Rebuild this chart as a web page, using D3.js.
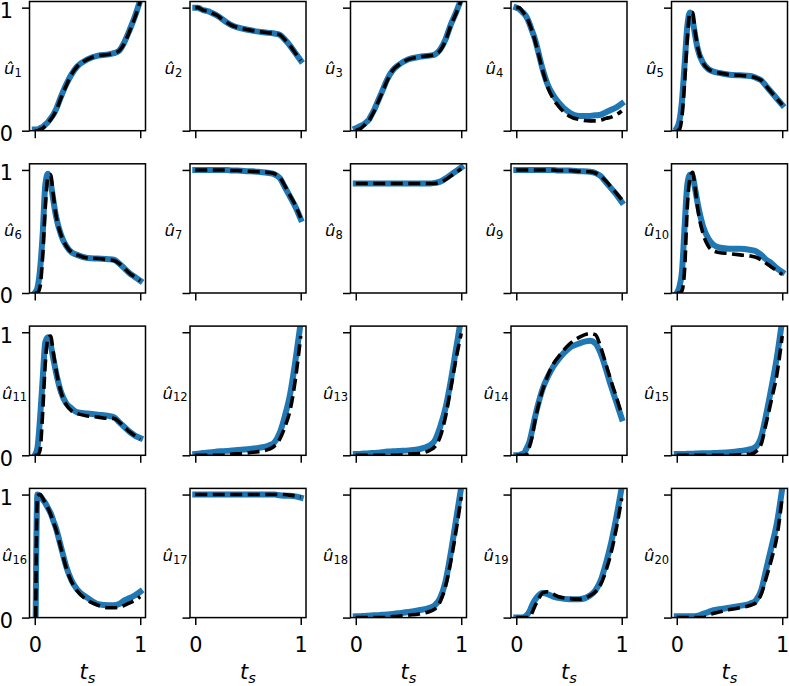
<!DOCTYPE html>
<html>
<head>
<meta charset="utf-8">
<script src="https://cdn.jsdelivr.net/npm/d3@7"></script>
<style>
  body { margin: 0; background: #fff; }
  svg { display: block; font-family: "DejaVu Sans", sans-serif; }
</style>
</head>
<body>
<svg id="chart" width="789" height="686"></svg>
<script>
// shared time grid (t_s) for all panels
const tGrid = [0, 0.025, 0.05, 0.075, 0.1, 0.125, 0.15, 0.175, 0.2, 0.25, 0.3, 0.35, 0.4, 0.5, 0.6, 0.7, 0.75, 0.8, 0.85, 0.9, 0.95, 1];

// blue solid curves, one row per panel u1..u20
const predicted = [
  [0.01,0.01,0.02,0.03,0.05,0.07,0.10,0.13,0.17,0.28,0.38,0.46,0.52,0.58,0.61,0.62,0.63,0.65,0.72,0.82,0.93,1.06],
  [1.00,1.00,0.99,0.98,0.975,0.97,0.96,0.95,0.94,0.91,0.88,0.855,0.84,0.82,0.805,0.795,0.79,0.78,0.74,0.69,0.63,0.57],
  [0.02,0.03,0.04,0.05,0.07,0.09,0.13,0.17,0.22,0.32,0.42,0.49,0.53,0.58,0.60,0.61,0.62,0.66,0.74,0.86,0.96,1.07],
  [1.00,0.99,0.97,0.95,0.92,0.87,0.81,0.75,0.67,0.50,0.37,0.29,0.23,0.15,0.12,0.12,0.125,0.13,0.15,0.17,0.19,0.22],
  [0.02,0.08,0.25,0.55,0.85,0.96,0.90,0.77,0.66,0.55,0.50,0.48,0.47,0.455,0.45,0.445,0.43,0.41,0.36,0.31,0.26,0.21],
  [0.00,0.04,0.19,0.48,0.88,0.97,0.90,0.76,0.63,0.47,0.38,0.33,0.31,0.285,0.28,0.275,0.27,0.24,0.20,0.16,0.13,0.10],
  [1.00,1.00,1.00,1.00,1.00,1.00,1.00,1.00,1.00,1.00,1.00,0.995,0.995,0.99,0.985,0.975,0.965,0.935,0.86,0.78,0.70,0.60],
  [0.89,0.89,0.89,0.89,0.89,0.89,0.89,0.89,0.89,0.89,0.89,0.89,0.89,0.89,0.89,0.89,0.895,0.905,0.93,0.96,0.99,1.02],
  [1.00,1.00,1.00,1.00,1.00,1.00,1.00,1.00,1.00,1.00,1.00,1.00,0.995,0.995,0.99,0.985,0.975,0.95,0.90,0.85,0.80,0.74],
  [0.00,0.05,0.18,0.55,0.88,0.96,0.95,0.84,0.72,0.54,0.44,0.39,0.37,0.36,0.36,0.35,0.34,0.31,0.27,0.24,0.20,0.17],
  [0.00,0.06,0.30,0.62,0.92,0.96,0.90,0.79,0.68,0.51,0.42,0.38,0.35,0.34,0.33,0.32,0.31,0.27,0.23,0.19,0.16,0.14],
  [0.01,0.012,0.015,0.018,0.02,0.022,0.025,0.028,0.03,0.033,0.036,0.04,0.043,0.05,0.06,0.08,0.105,0.18,0.32,0.50,0.77,1.08],
  [0.01,0.01,0.012,0.014,0.015,0.016,0.018,0.019,0.02,0.025,0.03,0.032,0.035,0.04,0.05,0.08,0.12,0.23,0.38,0.60,0.86,1.12],
  [0.00,0.00,0.01,0.02,0.06,0.11,0.20,0.30,0.39,0.54,0.64,0.72,0.78,0.87,0.91,0.93,0.91,0.83,0.70,0.56,0.43,0.30],
  [0.01,0.01,0.01,0.011,0.012,0.012,0.013,0.014,0.015,0.016,0.017,0.018,0.02,0.025,0.035,0.05,0.07,0.15,0.34,0.56,0.80,1.10],
  [-1.0,1.00,0.99,0.96,0.93,0.89,0.85,0.79,0.73,0.57,0.41,0.30,0.23,0.16,0.11,0.10,0.10,0.11,0.14,0.16,0.18,0.21],
  [1.00,1.00,1.00,1.00,1.00,1.00,1.00,1.00,1.00,1.00,1.00,1.00,1.00,1.00,1.00,1.00,1.00,0.995,0.99,0.99,0.985,0.975],
  [0.01,0.011,0.012,0.013,0.015,0.016,0.018,0.019,0.02,0.023,0.026,0.03,0.035,0.045,0.06,0.08,0.10,0.16,0.29,0.52,0.79,1.06],
  [0.00,0.00,0.00,0.005,0.02,0.05,0.10,0.14,0.17,0.20,0.19,0.17,0.16,0.15,0.15,0.18,0.22,0.30,0.44,0.61,0.82,1.06],
  [0.01,0.01,0.01,0.01,0.01,0.011,0.011,0.012,0.015,0.03,0.045,0.06,0.068,0.08,0.095,0.115,0.14,0.22,0.40,0.58,0.77,1.05]
];

// black dashed curves
const actual = [
  [0.00,0.00,0.01,0.02,0.04,0.06,0.09,0.12,0.16,0.27,0.37,0.46,0.52,0.58,0.61,0.62,0.63,0.65,0.71,0.81,0.92,1.05],
  [1.00,1.00,0.99,0.98,0.975,0.97,0.96,0.95,0.94,0.91,0.88,0.855,0.84,0.82,0.805,0.795,0.79,0.78,0.74,0.69,0.63,0.57],
  [0.00,0.01,0.02,0.04,0.06,0.08,0.12,0.16,0.21,0.31,0.41,0.49,0.53,0.58,0.60,0.61,0.62,0.65,0.73,0.85,0.95,1.06],
  [1.00,1.00,0.98,0.95,0.92,0.87,0.81,0.74,0.66,0.49,0.35,0.26,0.20,0.12,0.09,0.08,0.08,0.085,0.10,0.11,0.13,0.16],
  [0.00,0.01,0.12,0.40,0.75,0.96,0.96,0.80,0.67,0.55,0.50,0.48,0.47,0.455,0.45,0.44,0.43,0.41,0.36,0.31,0.26,0.21],
  [0.00,0.00,0.05,0.30,0.70,0.94,0.96,0.80,0.64,0.47,0.38,0.33,0.31,0.285,0.28,0.27,0.265,0.24,0.20,0.16,0.13,0.10],
  [1.00,1.00,1.00,1.00,1.00,1.00,1.00,1.00,1.00,1.00,1.00,0.995,0.995,0.99,0.985,0.98,0.97,0.94,0.87,0.79,0.71,0.61],
  [0.89,0.89,0.89,0.89,0.89,0.89,0.89,0.89,0.89,0.89,0.89,0.89,0.89,0.89,0.89,0.89,0.89,0.90,0.92,0.95,0.98,1.01],
  [1.00,1.00,1.00,1.00,1.00,1.00,1.00,1.00,1.00,1.00,1.00,1.00,0.995,0.995,0.99,0.985,0.975,0.95,0.91,0.86,0.81,0.76],
  [0.00,0.00,0.02,0.20,0.70,0.93,0.98,0.85,0.68,0.48,0.38,0.34,0.33,0.32,0.31,0.30,0.29,0.27,0.24,0.21,0.18,0.15],
  [0.00,0.00,0.04,0.35,0.75,0.95,0.97,0.84,0.70,0.51,0.41,0.36,0.34,0.32,0.31,0.30,0.30,0.27,0.23,0.19,0.16,0.13],
  [0.00,0.00,0.00,0.00,0.00,0.00,0.00,0.00,0.00,0.00,0.00,0.01,0.012,0.02,0.03,0.05,0.075,0.13,0.23,0.37,0.62,0.97],
  [0.00,0.00,0.00,0.00,0.00,0.00,0.00,0.00,0.00,0.00,0.00,0.00,0.00,0.01,0.015,0.04,0.07,0.15,0.31,0.54,0.78,0.99],
  [0.00,0.00,0.00,0.00,0.01,0.07,0.15,0.27,0.37,0.53,0.65,0.74,0.80,0.90,0.96,0.99,0.98,0.88,0.74,0.60,0.47,0.33],
  [0.00,0.00,0.00,0.00,0.00,0.00,0.00,0.00,0.00,0.00,0.00,0.00,0.00,0.00,0.005,0.01,0.03,0.09,0.27,0.46,0.66,0.97],
  [-1.0,0.99,1.00,0.97,0.93,0.89,0.84,0.78,0.72,0.56,0.40,0.29,0.22,0.14,0.10,0.08,0.08,0.085,0.10,0.12,0.14,0.17],
  [1.00,1.00,1.00,1.00,1.00,1.00,1.00,1.00,1.00,1.00,1.00,1.00,1.00,1.00,1.00,1.00,1.00,1.00,1.00,0.995,0.99,0.98],
  [0.00,0.00,0.00,0.00,0.00,0.00,0.00,0.00,0.00,0.00,0.00,0.008,0.01,0.02,0.03,0.05,0.07,0.13,0.25,0.45,0.70,0.98],
  [0.00,0.00,0.00,0.00,0.00,0.00,0.04,0.09,0.13,0.20,0.21,0.19,0.17,0.155,0.15,0.18,0.21,0.27,0.38,0.53,0.73,0.97],
  [0.00,0.00,0.00,0.00,0.00,0.00,0.00,0.00,0.00,0.00,0.02,0.035,0.045,0.065,0.08,0.10,0.12,0.19,0.33,0.48,0.66,0.98]
];

const panelSubscripts = ["1","2","3","4","5","6","7","8","9","10","11","12","13","14","15","16","17","18","19","20"];
const tickValues = [0, 1];
const tickLabels = ["0", "1"];

const nCols = 5;
const nRows = 4;
const axW = 116, axH = 129.2;
const colStep = 160.5, rowStep = 162.3;
const left0 = 29.5, top0 = 1.5;

const svg = d3.select("#chart");
const defs = svg.append("defs");

panelSubscripts.forEach(function (sub, i) {
  const row = Math.floor(i / nCols);
  const col = i % nCols;
  const x0 = left0 + col * colStep;
  const y0 = top0 + row * rowStep;

  const x = d3.scaleLinear().domain([-0.05, 1.05]).range([x0, x0 + axW]);
  const y = d3.scaleLinear().domain([0, 1.05]).range([y0 + axH, y0]);

  defs.append("clipPath").attr("id", "clip" + i)
    .append("rect")
    .attr("x", x0).attr("y", y0).attr("width", axW).attr("height", axH);

  const pts = tGrid.map(function (t, k) { return { t: t, blue: predicted[i][k], dash: actual[i][k] }; });

  const lineBlue = d3.line().x(d => x(d.t)).y(d => y(d.blue)).curve(d3.curveMonotoneX);
  const lineDash = d3.line().x(d => x(d.t)).y(d => y(d.dash)).curve(d3.curveMonotoneX);

  const g = svg.append("g").attr("clip-path", "url(#clip" + i + ")");
  g.append("path").datum(pts)
    .attr("d", lineBlue)
    .attr("fill", "none")
    .attr("stroke", "#1f77b4")
    .attr("stroke-width", 6)
    .attr("stroke-linecap", "square")
    .attr("stroke-linejoin", "round");
  g.append("path").datum(pts)
    .attr("d", lineDash)
    .attr("fill", "none")
    .attr("stroke", "#000")
    .attr("stroke-width", 3.6)
    .attr("stroke-dasharray", "12,5.5")
    .attr("stroke-linejoin", "round");

  // axes
  const yAxis = d3.axisLeft(y).tickValues(tickValues).tickSize(7.5).tickSizeOuter(0).tickPadding(9)
    .tickFormat((d, k) => col === 0 ? tickLabels[k] : "");
  const ya = svg.append("g").attr("transform", "translate(" + x0 + ",0)").call(yAxis);
  ya.selectAll(".tick text").attr("dy", "0.47em");
  const xAxis = d3.axisBottom(x).tickValues(tickValues).tickSize(7.5).tickSizeOuter(0).tickPadding(12.5)
    .tickFormat((d, k) => row === nRows - 1 ? tickLabels[k] : "");
  const xa = svg.append("g").attr("transform", "translate(0," + (y0 + axH) + ")").call(xAxis);
  [ya, xa].forEach(function (a) {
    a.select(".domain").remove();
    a.selectAll(".tick line").attr("stroke", "#000").attr("stroke-width", 1.5);
    a.selectAll(".tick text").attr("fill", "#000")
      .style("font-family", "DejaVu Sans").style("font-size", "20.8px");
  });

  // frame
  svg.append("rect")
    .attr("x", x0).attr("y", y0).attr("width", axW).attr("height", axH)
    .attr("fill", "none").attr("stroke", "#000").attr("stroke-width", 1.5);

  // panel label
  const lab = svg.append("text")
    .attr("x", x0 - (sub.length > 1 ? 15 : 16.5))
    .attr("y", y0 + axH / 2 + 8)
    .attr("text-anchor", "middle")
    .style("font-size", "16.5px")
    .attr("fill", "#000");
  lab.append("tspan").style("font-style", "italic").text("\u00fb");
  lab.append("tspan").attr("dy", 2.5).style("font-size", "11.5px").text(sub);

  if (row === nRows - 1) {
    const xl = svg.append("text")
      .attr("x", x0 + axW / 2)
      .attr("y", 679)
      .attr("text-anchor", "middle")
      .style("font-size", "20.8px")
      .style("font-style", "italic")
      .attr("fill", "#000");
    xl.append("tspan").text("t");
    xl.append("tspan").attr("dy", 3.5).style("font-size", "14.6px").text("s");
  }
});
</script>
</body>
</html>
